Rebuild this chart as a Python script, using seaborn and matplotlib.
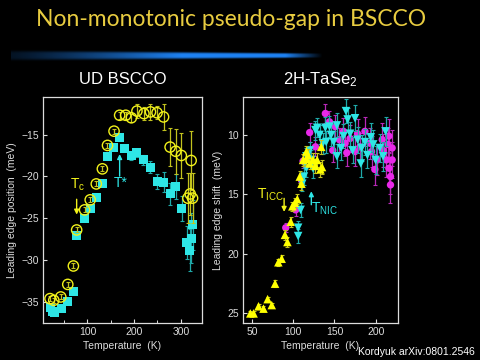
import matplotlib
matplotlib.use("Agg")
import matplotlib.pyplot as plt
import seaborn as sns
import numpy as np
import pandas as pd

# ---- UD BSCCO (left panel) ----
bscco_circ_T = [20, 28, 43, 58, 70, 77, 94, 106, 119, 132, 143, 157, 169, 182, 194,
                206, 221, 235, 249, 263, 277, 289, 301, 322, 315, 320, 325]
bscco_circ_E = [-34.6, -34.8, -34.4, -32.9, -30.7, -26.4, -24.0, -22.8, -20.9, -19.1,
                -16.3, -14.6, -12.7, -12.7, -13.0, -12.2, -12.5, -12.3, -12.4, -12.9,
                -16.5, -17.0, -17.5, -18.1, -22.6, -22.1, -22.6]
bscco_circ_err = [0.3, 0.3, 0.3, 0.3, 0.3, 0.3, 0.3, 0.3, 0.3, 0.3, 0.3, 0.3, 0.4, 0.4,
                  0.5, 0.8, 0.8, 1.0, 0.8, 1.6, 2.3, 2.7, 2.7, 3.5, 3.0, 2.5, 3.0]

bscco_sq_T = [20, 25, 30, 45, 58, 71, 77, 94, 107, 120, 132, 143, 156, 169, 180, 194,
              206, 220, 235, 249, 263, 277, 289, 302, 313, 319, 322, 325]
bscco_sq_E = [-35.6, -36.1, -36.2, -35.8, -34.9, -33.7, -27.1, -25.0, -23.8, -22.5,
              -20.9, -17.6, -16.6, -15.4, -16.7, -17.5, -17.2, -18.0, -18.9, -20.6,
              -20.7, -22.1, -21.2, -23.8, -27.9, -28.8, -27.4, -25.8]
bscco_sq_err = [0.2, 0.2, 0.2, 0.2, 0.2, 0.2, 0.2, 0.2, 0.2, 0.2, 0.2, 0.3, 0.3, 0.3,
                0.3, 0.5, 0.5, 0.6, 0.7, 0.9, 1.2, 1.3, 1.5, 1.5, 2.0, 2.5, 3.0, 3.0]

# ---- 2H-TaSe2 (right panel) ----
tase_up_T = [48, 52, 58, 64, 69, 74, 78, 82, 86, 90, 93, 97, 99, 102, 105, 108, 110,
             112, 116, 118, 120, 124, 127, 129, 133, 135, 134, 116]
tase_up_E = [25.0, 25.0, 24.4, 24.6, 23.8, 24.3, 22.5, 20.7, 20.4, 18.4, 19.0, 17.3,
             16.0, 15.7, 15.4, 13.5, 14.1, 12.1, 12.0, 11.7, 12.4, 12.1, 12.6, 12.1,
             12.9, 12.7, 11.0, 11.4]
tase_up_err = [0.2, 0.2, 0.2, 0.2, 0.2, 0.2, 0.3, 0.3, 0.3, 0.4, 0.4, 0.4, 0.4, 0.4,
               0.4, 0.5, 0.5, 0.5, 0.5, 0.5, 0.5, 0.6, 0.6, 0.6, 0.6, 0.6, 0.6, 0.5]

tase_mag_T = [91, 103, 110, 112, 120, 127, 139, 144, 151, 148, 156, 161, 163, 169, 175,
              178, 181, 187, 193, 195, 199, 202, 208, 209, 213, 216, 216, 218, 218, 220,
              220, 215, 165]
tase_mag_E = [17.8, 16.3, 13.8, 12.2, 9.8, 11.0, 8.2, 8.9, 9.3, 11.3, 10.4, 9.7, 10.7,
              10.3, 11.4, 9.9, 11.0, 9.7, 10.7, 11.4, 12.9, 12.1, 10.4, 11.3, 12.1, 10.1,
              12.8, 13.5, 14.2, 11.1, 12.1, 10.8, 11.5]
tase_mag_err = [0.4, 0.5, 0.6, 0.6, 0.8, 0.8, 0.8, 0.9, 1.0, 1.0, 1.0, 1.1, 1.1, 1.1,
                1.2, 1.2, 1.2, 1.2, 1.3, 1.3, 1.3, 1.3, 1.4, 1.4, 1.4, 1.4, 1.4, 1.5,
                1.5, 1.5, 1.5, 1.4, 1.1]

tase_dn_T = [106, 106, 109, 111, 113, 116, 120, 124, 127, 129, 132, 136, 140, 144, 146,
             149, 153, 153, 158, 161, 164, 166, 169, 172, 175, 178, 182, 183, 187, 190,
             194, 197, 200, 205, 209, 212, 139, 116, 122]
tase_dn_E = [17.8, 18.5, 16.3, 14.1, 13.5, 12.8, 11.3, 12.8, 9.6, 9.4, 10.0, 10.7, 10.6,
             9.3, 10.0, 10.6, 9.2, 11.8, 11.1, 10.1, 8.0, 8.7, 9.9, 11.3, 8.6, 10.4,
             12.4, 11.1, 10.6, 11.7, 10.2, 10.8, 12.1, 11.1, 11.8, 9.7, 9.4, 11.8, 12.1]
tase_dn_err = [0.6, 0.6, 0.6, 0.6, 0.7, 0.7, 0.7, 0.8, 0.8, 0.8, 0.8, 0.9, 0.9, 0.9, 0.9,
               0.9, 1.0, 1.0, 1.0, 1.0, 1.0, 1.0, 1.0, 1.1, 1.1, 1.1, 1.1, 1.1, 1.1, 1.1,
               1.2, 1.2, 1.2, 1.2, 1.2, 1.2, 0.9, 0.7, 0.8]

YEL = "#f2f21a"
CYAN = "#2ee6e6"
MAG = "#e828e8"
FG = "#dcdcdc"

sns.set_theme(style="dark")
plt.rcParams["font.family"] = ["Liberation Sans", "DejaVu Sans"]
plt.rcParams["mathtext.fontset"] = "custom"
plt.rcParams["mathtext.rm"] = "Liberation Sans"
plt.rcParams["mathtext.it"] = "Liberation Sans"

fig = plt.figure(figsize=(4.8, 3.6), dpi=100, facecolor="black")

# title + blue streak
fig.text(0.482, 0.945, "Non-monotonic pseudo-gap in BSCCO", ha="center", va="center",
         color="#e8cc40", fontsize=16.5, family=["Lato", "DejaVu Sans"])
bar_ax = fig.add_axes([0.022, 0.822, 0.65, 0.045])
bar_ax.axis("off")
xs = np.linspace(0, 1, 400)
ys = np.linspace(-1, 1, 40)
alpha_x = (0.15 + 0.85 * np.clip(xs / 0.55, 0, 1) ** 1.2) * np.clip((1 - xs) / 0.12, 0, 1)
thick = 1 - 0.55 * xs
alpha = alpha_x[None, :] * np.exp(-(ys[:, None] / (0.55 * thick[None, :])) ** 4)
img = np.zeros((40, 400, 4))
img[..., 0] = 0.12
img[..., 1] = 0.52
img[..., 2] = 0.97
img[..., 3] = np.clip(alpha, 0, 1)
bar_ax.imshow(img, aspect="auto", extent=[0, 1, 0, 1])


def style_axis(ax):
    ax.set_facecolor("black")
    for sp in ax.spines.values():
        sp.set_color(FG)
        sp.set_linewidth(0.9)
    ax.tick_params(colors=FG, labelsize=7.5, direction="in", length=3, width=0.8,
                   left=True, bottom=True, pad=3)
    ax.tick_params(which="minor", direction="in", length=2, width=0.7, colors=FG,
                   bottom=True)
    ax.grid(False)


# ---------- left panel ----------
ax1 = fig.add_axes([0.0896, 0.103, 0.331, 0.628])
style_axis(ax1)
df_c = pd.DataFrame({"T": bscco_circ_T, "E": bscco_circ_E})
df_s = pd.DataFrame({"T": bscco_sq_T, "E": bscco_sq_E})
ax1.errorbar(bscco_sq_T, bscco_sq_E, yerr=bscco_sq_err, fmt="none", ecolor="#1fa8a8",
             elinewidth=0.9, capsize=1.5, capthick=0.8, zorder=2)
sns.scatterplot(data=df_s, x="T", y="E", ax=ax1, marker="s", s=42, color=CYAN,
                edgecolor="none", zorder=3)
ax1.errorbar(bscco_circ_T, bscco_circ_E, yerr=bscco_circ_err, fmt="none",
             ecolor="#c2c21e", elinewidth=0.9, capsize=1.5, capthick=0.8, zorder=4)
sns.scatterplot(data=df_c, x="T", y="E", ax=ax1, marker="o", s=55, facecolor="none",
                edgecolor=YEL, linewidth=1.0, zorder=5)
ax1.set_xlim(5, 345)
ax1.set_ylim(-37.5, -10.5)
ax1.set_xticks([100, 200, 300])
ax1.set_xticks([50, 150, 250], minor=True)
ax1.set_yticks([-35, -30, -25, -20, -15])
ax1.set_xlabel("Temperature  (K)", color=FG, fontsize=7.5, labelpad=3)
ax1.set_ylabel("Leading edge position  (meV)", color=FG, fontsize=7.5, labelpad=3)
ax1.set_title("UD BSCCO", color="white", fontsize=12, pad=9)
ax1.annotate("", xy=(77, -24.9), xytext=(77, -22.4),
             arrowprops=dict(arrowstyle="-|>", color=YEL, lw=1.0, mutation_scale=7))
ax1.text(80, -21.0, r"T$_\mathrm{c}$", color=YEL, fontsize=10, ha="center", va="center")
ax1.annotate("", xy=(169, -17.0), xytext=(169, -20.3),
             arrowprops=dict(arrowstyle="-|>", color=CYAN, lw=1.0, mutation_scale=7))
ax1.text(171, -20.8, "T*", color=CYAN, fontsize=10, ha="center", va="center")

# ---------- right panel ----------
ax2 = fig.add_axes([0.506, 0.103, 0.323, 0.628])
style_axis(ax2)
df_up = pd.DataFrame({"T": tase_up_T, "E": tase_up_E})
df_mag = pd.DataFrame({"T": tase_mag_T, "E": tase_mag_E})
df_dn = pd.DataFrame({"T": tase_dn_T, "E": tase_dn_E})
ax2.errorbar(tase_mag_T, tase_mag_E, yerr=tase_mag_err, fmt="none", ecolor="#b828b8",
             elinewidth=0.9, capsize=1.5, capthick=0.8, zorder=2)
sns.scatterplot(data=df_mag, x="T", y="E", ax=ax2, marker="o", s=28, color=MAG,
                edgecolor="none", zorder=3)
ax2.errorbar(tase_dn_T, tase_dn_E, yerr=tase_dn_err, fmt="none", ecolor="#1fa8a8",
             elinewidth=0.9, capsize=1.5, capthick=0.8, zorder=4)
sns.scatterplot(data=df_dn, x="T", y="E", ax=ax2, marker="v", s=38, color=CYAN,
                edgecolor="none", zorder=5)
ax2.errorbar(tase_up_T, tase_up_E, yerr=tase_up_err, fmt="none", ecolor="#c2c21e",
             elinewidth=0.9, capsize=1.5, capthick=0.8, zorder=6)
sns.scatterplot(data=df_up, x="T", y="E", ax=ax2, marker="^", s=38, color="#ffff00",
                edgecolor="none", zorder=7)
ax2.set_xlim(39, 227)
ax2.set_ylim(25.8, 6.8)
ax2.set_xticks([50, 100, 150, 200])
ax2.set_yticks([10, 15, 20, 25])
ax2.set_xlabel("Temperature  (K)", color=FG, fontsize=7.5, labelpad=3)
ax2.set_ylabel("Leading edge shift  (meV)", color=FG, fontsize=7.5, labelpad=3)
ax2.set_title("2H-TaSe$_2$", color="white", fontsize=12, pad=9)
ax2.annotate("", xy=(89, 16.7), xytext=(89, 15.1),
             arrowprops=dict(arrowstyle="-|>", color=YEL, lw=1.0, mutation_scale=7))
ax2.text(72, 15.0, r"T$_\mathrm{ICC}$", color=YEL, fontsize=10, ha="center", va="center")
ax2.annotate("", xy=(122, 14.5), xytext=(122, 16.1),
             arrowprops=dict(arrowstyle="-|>", color=CYAN, lw=1.0, mutation_scale=7))
ax2.text(138, 16.2, r"T$_\mathrm{NIC}$", color=CYAN, fontsize=10, ha="center", va="center")

fig.text(0.99, 0.022, "Kordyuk arXiv:0801.2546", ha="right", va="center",
         color="white", fontsize=7.5)

fig.savefig("out.png", dpi=100, facecolor="black")
